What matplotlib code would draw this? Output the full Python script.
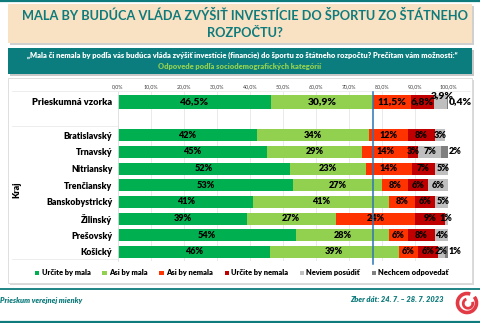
import matplotlib
matplotlib.use("Agg")
import matplotlib.pyplot as plt
from matplotlib.patches import Rectangle, Arc
from matplotlib.lines import Line2D
import numpy as np

plt.rcParams['font.family'] = ['Lato', 'DejaVu Sans']

# ---------------- data ----------------
categories = ["Prieskumná vzorka", "", "Bratislavský", "Trnavský", "Nitriansky", "Trenčiansky",
              "Banskobystrický", "Žilinský", "Prešovský", "Košický"]
series_names = ["Určite by mala", "Asi by mala", "Asi by nemala", "Určite by nemala",
                "Neviem posúdiť", "Nechcem odpovedať"]
urcite_mala   = [46.5, 0, 42, 45, 52, 53, 41, 39, 54, 46]
asi_mala      = [30.9, 0, 34, 29, 23, 27, 41, 27, 28, 39]
asi_nemala    = [11.5, 0, 12, 14, 14, 8, 8, 24, 6, 6]
urcite_nemala = [6.8, 0, 8, 3, 7, 6, 6, 9, 8, 6]
neviem        = [3.9, 0, 3, 7, 5, 6, 5, 1, 4, 2]
nechcem       = [0.4, 0, 0, 2, 0, 0, 0, 0, 0, 1]
xticks = [0, 10, 20, 30, 40, 50, 60, 70, 80, 90, 100]
mala_total = 46.5 + 30.9

colors = ["#00B050", "#92D050", "#FF3300", "#C00000", "#BFBFBF", "#808080"]
TEAL = "#0E7B7C"

W, H = 480, 323
fig = plt.figure(figsize=(W / 100, H / 100), dpi=100)
fig.patch.set_facecolor("white")

def fx(x):
    return x / W

def fy(y):
    return 1 - y / H

def rect(x0, y0, x1, y1, **kw):
    fig.add_artist(Rectangle((fx(x0), fy(y1)), fx(x1) - fx(x0), fy(y0) - fy(y1),
                             transform=fig.transFigure, zorder=-5, **kw))

def hline(x0, x1, y, z=-4, **kw):
    fig.add_artist(Line2D([fx(x0), fx(x1)], [fy(y), fy(y)], transform=fig.transFigure,
                          zorder=z, **kw))

# top line
hline(0, W, 0.8, color=TEAL, lw=1.6)
# title box with shadow
rect(10, 6, 474, 45, facecolor="#D0D0D0", edgecolor="none")
rect(8, 4, 472, 43, facecolor="#F9E1C3", edgecolor="none")
fig.text(fx(245), fy(16), "MALA BY BUDÚCA VLÁDA ZVÝŠIŤ INVESTÍCIE DO ŠPORTU ZO ŠTÁTNEHO",
         ha="center", va="center", fontsize=9.2, fontweight="bold", color=TEAL)
fig.text(fx(245), fy(33), "ROZPOČTU?", ha="center", va="center", fontsize=9.2,
         fontweight="bold", color=TEAL)
# question box
rect(10, 50, 474, 76, facecolor="#C8C8C8", edgecolor="none")
rect(8, 48, 472, 74, facecolor="#0B7D7E", edgecolor="none")
fig.text(fx(242), fy(55.5),
         "„Mala či nemala by podľa vás budúca vláda zvýšiť investície (financie) do športu zo štátneho rozpočtu? Prečítam vám možnosti:“",
         ha="center", va="center", fontsize=5.4, fontweight="heavy", color="white")
fig.text(fx(240), fy(66), "Odpovede podľa sociodemografických kategórií",
         ha="center", va="center", fontsize=5.4, fontweight="heavy", color="#92D050")
# chart panel
rect(10, 80, 474, 285, facecolor="#D8D8D8", edgecolor="none")
rect(8, 78, 472, 283, facecolor="white", edgecolor="#D9D9D9", lw=0.6)

# ---------------- axes ----------------
ax = fig.add_axes([fx(118), fy(261), fx(448) - fx(118), fy(92) - fy(261)])
ax.patch.set_alpha(0)
series = [urcite_mala, asi_mala, asi_nemala, urcite_nemala, neviem, nechcem]
y = np.arange(len(categories))
heights = [0.82 if i == 0 else 0.72 for i in range(len(categories))]
left = np.zeros(len(categories))
for k, vals in enumerate(series):
    vals = np.array(vals, dtype=float)
    ax.barh(y, vals, left=left, height=heights, color=colors[k], edgecolor="none",
            label=series_names[k], zorder=2)
    for i, v in enumerate(vals):
        if v <= 0:
            continue
        fs = 7.4 if i == 0 else 6.6
        txt = (f"{v:.1f}%".replace(".", ",")) if i == 0 else f"{v:.0f}%"
        cx = left[i] + v / 2
        ha, va, yy = "center", "center", y[i]
        if i == 0 and k == 4:
            yy = y[i] - 0.4
            cx = left[i] + v / 2 + 0.5
        elif k == 5:
            cx = left[i] + v + 0.2
            ha = "left"
        ax.text(cx, yy, txt, ha=ha, va=va, fontsize=fs, fontweight="heavy",
                color="black", zorder=4)
    left += vals

ax.set_xlim(0, 100)
ax.set_ylim(9.55, -0.6)
ax.set_xticks(xticks)
ax.set_xticklabels([f"{t:.1f}%".replace(".", ",") for t in xticks], fontsize=3.8, color="#404040")
ax.xaxis.tick_top()
ax.tick_params(axis="x", length=0, pad=2)
ax.set_yticks(y)
ax.set_yticklabels(categories, fontsize=6.3, fontweight="heavy")
ax.tick_params(axis="y", length=0, pad=4)
ax.get_yticklabels()[0].set_fontsize(6.7)
ax.grid(axis="x", color="#E6E6E6", lw=0.6, zorder=0)
for s in ["top", "right", "bottom"]:
    ax.spines[s].set_visible(False)
ax.spines["left"].set_color("#E0E0E0")
ax.spines["left"].set_linewidth(0.6)
ax.axvline(mala_total, ymin=-0.02, ymax=1, color="#2E75B6", lw=1.1, zorder=5, clip_on=False)

# category separators
hline(12, 470, 91.5, color="#E6E6E6", lw=0.5)
hline(12, 118, 126, color="#E6E6E6", lw=0.5)
hline(12, 118, 259, color="#E6E6E6", lw=0.5)
fig.text(fx(17), fy(190), "Kraj", rotation=90, ha="center", va="center",
         fontsize=6.3, fontweight="heavy")

# legend
handles = [Rectangle((0, 0), 1, 1, facecolor=c, edgecolor="none") for c in colors]
fig.legend(handles, series_names, loc="center", bbox_to_anchor=(fx(242), fy(273)), ncol=6,
           frameon=False, prop={"size": 5.4, "weight": "heavy"}, handlelength=0.55,
           handleheight=0.55, handletextpad=0.3, columnspacing=1.6)

# footer
hline(0, W, 289, color=TEAL, lw=1.3)
hline(0, W, 321.5, color=TEAL, lw=1.6)
fig.text(fx(0), fy(300), "Prieskum verejnej mienky", ha="left", va="center", fontsize=5.4,
         fontweight="heavy", fontstyle="italic", color=TEAL)
fig.text(fx(444), fy(300), "Zber dát: 24. 7. – 28. 7. 2023", ha="right", va="center",
         fontsize=5.4, fontweight="heavy", fontstyle="italic", color=TEAL)
# logo
lax = fig.add_axes([fx(455), fy(315), fx(24), fy(0) - fy(24)])
lax.set_xlim(-1.2, 1.2)
lax.set_ylim(-1.2, 1.2)
lax.set_aspect("equal")
lax.axis("off")
lax.add_patch(Arc((0, 0), 1.9, 1.9, theta1=70, theta2=400, color="#E23B45", lw=2.6))
lax.add_patch(Arc((0.1, -0.05), 0.95, 0.95, theta1=110, theta2=380, color="#E23B45", lw=2.0))

fig.savefig("out.png", dpi=100, facecolor="white")
